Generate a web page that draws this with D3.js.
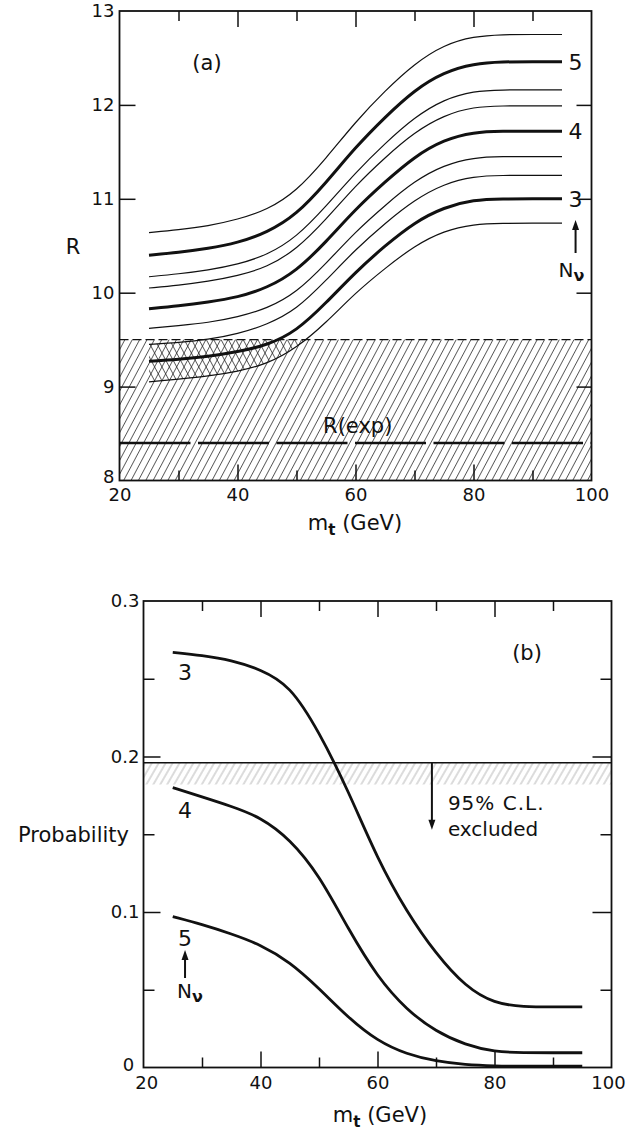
<!DOCTYPE html>
<html>
<head>
<meta charset="utf-8">
<script src="https://cdn.jsdelivr.net/npm/d3@7/dist/d3.min.js"></script>
<style>
body{margin:0;background:#fff}
text{font-family:"DejaVu Sans",sans-serif;fill:#111}
</style>
</head>
<body>
<svg id="chart" width="627" height="1132"></svg>
<script>
// top quark mass grid (GeV)
const mt = [25,30,35,40,45,50,55,60,65,70,75,80,85,90,95]

// (a) R for N_nu = 5,4,3 with the edges of each band
const rN5hi = [10.64,10.67,10.71,10.78,10.88,11.08,11.43,11.82,12.15,12.44,12.64,12.73,12.75,12.75,12.75]
const rN5   = [10.40,10.43,10.47,10.53,10.64,10.83,11.17,11.55,11.87,12.16,12.35,12.44,12.46,12.46,12.46]
const rN5lo = [10.17,10.20,10.24,10.30,10.40,10.59,10.92,11.28,11.59,11.87,12.06,12.15,12.16,12.16,12.16]
const rN4hi = [10.05,10.08,10.12,10.18,10.27,10.46,10.78,11.14,11.44,11.71,11.89,11.98,11.99,11.99,11.99]
const rN4   = [9.83,9.86,9.90,9.95,10.05,10.23,10.54,10.89,11.18,11.45,11.63,11.71,11.72,11.72,11.72]
const rN4lo = [9.62,9.65,9.68,9.74,9.83,10.00,10.31,10.65,10.93,11.19,11.36,11.44,11.45,11.45,11.45]
const rN3hi = [9.45,9.47,9.50,9.56,9.66,9.82,10.13,10.46,10.74,10.99,11.16,11.24,11.25,11.25,11.25]
const rN3   = [9.27,9.29,9.32,9.37,9.44,9.59,9.89,10.22,10.50,10.75,10.91,10.99,11.00,11.00,11.00]
const rN3lo = [9.05,9.08,9.11,9.16,9.24,9.41,9.68,10.00,10.26,10.50,10.66,10.73,10.74,10.74,10.74]
const rExp = 8.4
const rLimit = 9.5

// (b) probability for N_nu = 3,4,5
const probN3 = [0.267,0.265,0.262,0.256,0.246,0.216,0.178,0.134,0.100,0.073,0.052,0.041,0.039,0.039,0.039]
const probN4 = [0.180,0.174,0.168,0.161,0.147,0.124,0.089,0.058,0.037,0.023,0.0145,0.0100,0.0095,0.0095,0.0095]
const probN5 = [0.097,0.092,0.086,0.079,0.068,0.051,0.032,0.017,0.0085,0.0040,0.0018,0.0010,0.0008,0.0008,0.0008]
const probLimit = 0.196

// ticks
const mtTicks = [20,40,60,80,100]
const mtMajor = [40,60,80]
const mtMinor = [30,50,70,90]
const rTicks = [8,9,10,11,12,13]
const rInner = [9,10,11,12]
const probTicks = [0,0.1,0.2,0.3]
const probMajor = [0.1,0.2]
const probMinor = [0.05,0.15,0.25]

const svg = d3.select("#chart")
const defs = svg.append("defs")

function hatch(id, angle, size, color, w) {
    let p = defs.append("pattern").attr("id", id)
        .attr("patternUnits","userSpaceOnUse")
        .attr("width",size).attr("height",size)
        .attr("patternTransform",`rotate(${angle})`)
    p.append("line").attr("x1",size/2).attr("y1",0).attr("x2",size/2).attr("y2",size)
        .attr("stroke",color).attr("stroke-width",w)
}
hatch("fwd",28,6.5,"#222",0.7)
hatch("back",-28,6.5,"#222",0.7)
hatch("faint",30,6,"#b0b0b0",0.9)

function ticks(g, axis, size, vals) {
    g.call(axis.tickValues(vals).tickSize(size).tickFormat(""))
    g.select(".domain").remove()
    g.selectAll("line").attr("stroke","#111").attr("stroke-width",1.5)
}
function labels(g, axis, vals, fmt, pad) {
    g.call(axis.tickValues(vals).tickSize(0).tickPadding(pad).tickFormat(fmt))
    g.select(".domain").remove()
    g.attr("font-size",18).attr("font-family",null)
    return g
}

// ---------- panel (a) ----------
const xa = d3.scaleLinear().domain([20,100]).range([119.5,591.5])
const ya = d3.scaleLinear().domain([8,13]).range([480.5,11])

defs.append("clipPath").attr("id","belowA")
    .append("rect")
    .attr("x",xa(20)).attr("y",ya(rLimit))
    .attr("width",xa(100)-xa(20)).attr("height",ya(8)-ya(rLimit))

const pa = svg.append("g")
pa.append("rect")
    .attr("x",xa(20)).attr("y",ya(rLimit))
    .attr("width",xa(100)-xa(20)).attr("height",ya(8)-ya(rLimit))
    .attr("fill","url(#fwd)")

let bandA = d3.area().x((d,i)=>xa(mt[i])).y0(d=>ya(d[0])).y1(d=>ya(d[1])).curve(d3.curveBasis)
pa.append("path")
    .datum(rN3lo.map((v,i)=>[v,rN3hi[i]]))
    .attr("d",bandA)
    .attr("fill","url(#back)")
    .attr("clip-path","url(#belowA)")

pa.append("line")
    .attr("x1",xa(20)).attr("x2",xa(100))
    .attr("y1",ya(rLimit)).attr("y2",ya(rLimit))
    .attr("stroke","#111").attr("stroke-width",1.3).attr("stroke-dasharray","9,4")

pa.append("line")
    .attr("x1",xa(20)).attr("x2",xa(100))
    .attr("y1",ya(rExp)).attr("y2",ya(rExp))
    .attr("stroke","#111").attr("stroke-width",2.6).attr("stroke-dasharray","71,7.5")

let lineA = d3.line().x((d,i)=>xa(mt[i])).y(d=>ya(d)).curve(d3.curveBasis)
const curvesA = [rN5hi,rN5,rN5lo,rN4hi,rN4,rN4lo,rN3hi,rN3,rN3lo]
const thickA = [rN5,rN4,rN3]
pa.selectAll(".ca")
    .data(curvesA)
    .enter()
    .append("path")
    .attr("d",lineA)
    .attr("fill","none")
    .attr("stroke","#111")
    .attr("stroke-width",d=>thickA.includes(d)?3:1.2)

labels(pa.append("g").attr("transform",`translate(0,${ya(8)})`), d3.axisBottom(xa), mtTicks, d3.format("d"), 8)
labels(pa.append("g").attr("transform",`translate(${xa(20)-5},0)`), d3.axisLeft(ya), rTicks, d3.format("d"), 0)
    .selectAll("text").attr("dy",(d)=>d===8?"0.1em":"0.32em")
ticks(pa.append("g").attr("transform",`translate(0,${ya(8)})`), d3.axisBottom(xa), -16, mtMajor)
ticks(pa.append("g").attr("transform",`translate(0,${ya(8)})`), d3.axisBottom(xa), -10, mtMinor)
ticks(pa.append("g").attr("transform",`translate(0,${ya(13)})`), d3.axisTop(xa), -16, mtMajor)
ticks(pa.append("g").attr("transform",`translate(0,${ya(13)})`), d3.axisTop(xa), -10, mtMinor)
ticks(pa.append("g").attr("transform",`translate(${xa(20)},0)`), d3.axisLeft(ya), -16, rInner)
ticks(pa.append("g").attr("transform",`translate(${xa(100)},0)`), d3.axisRight(ya), -15, rInner)

pa.append("rect")
    .attr("x",xa(20)).attr("y",ya(13))
    .attr("width",xa(100)-xa(20)).attr("height",ya(8)-ya(13))
    .attr("fill","none").attr("stroke","#111").attr("stroke-width",1.8)

pa.append("text").attr("x",207).attr("y",70).attr("text-anchor","middle").attr("font-size",21).text("(a)")
pa.append("text").attr("x",73).attr("y",254).attr("text-anchor","middle").attr("font-size",21).text("R")
pa.append("text").attr("x",xa(54.5)).attr("y",ya(rExp)-10).attr("font-size",21).text("R(exp)")
;[["5",rN5[14]],["4",rN4[14]],["3",rN3[14]]].forEach(([t,v])=>{
    pa.append("text").attr("x",xa(97.3)).attr("y",ya(v)).attr("dy","0.36em")
        .attr("text-anchor","middle").attr("font-size",22).text(t)
})
pa.append("line").attr("x1",xa(97.3)).attr("x2",xa(97.3)).attr("y1",253).attr("y2",228)
    .attr("stroke","#111").attr("stroke-width",2)
pa.append("path").attr("d",`M${xa(97.3)-3.5},230 L${xa(97.3)},220 L${xa(97.3)+3.5},230 Z`).attr("fill","#111")
let nuA = pa.append("text").attr("x",xa(97.3)-17).attr("y",277).attr("font-size",20)
nuA.append("tspan").text("N")
nuA.append("tspan").attr("dy",4).attr("font-size",16).attr("font-weight","bold").text("ν")

let mA = pa.append("text").attr("x",355).attr("y",530).attr("text-anchor","middle").attr("font-size",21)
mA.append("tspan").text("m")
mA.append("tspan").attr("dy",5).attr("font-size",15).attr("font-weight","bold").text("t")
mA.append("tspan").attr("dy",-5).text(" (GeV)")

// ---------- panel (b) ----------
const xb = d3.scaleLinear().domain([20,100]).range([143.5,611.5])
const yb = d3.scaleLinear().domain([0,0.3]).range([1067.5,601])

const pb = svg.append("g")
pb.append("rect")
    .attr("x",xb(20)).attr("y",yb(probLimit))
    .attr("width",xb(100)-xb(20)).attr("height",yb(0.182)-yb(probLimit))
    .attr("fill","url(#faint)")
pb.append("line")
    .attr("x1",xb(20)).attr("x2",xb(100))
    .attr("y1",yb(probLimit)).attr("y2",yb(probLimit))
    .attr("stroke","#111").attr("stroke-width",1.5)

let lineB = d3.line().x((d,i)=>xb(mt[i])).y(d=>yb(d)).curve(d3.curveBasis)
pb.selectAll(".cb")
    .data([probN3,probN4,probN5])
    .enter()
    .append("path")
    .attr("d",lineB)
    .attr("fill","none")
    .attr("stroke","#111")
    .attr("stroke-width",2.8)

labels(pb.append("g").attr("transform",`translate(0,${yb(0)})`), d3.axisBottom(xb), mtTicks, d3.format("d"), 9)
    .selectAll("text").attr("dx",d=>d===100?"-0.2em":d===20?"0.15em":0)
labels(pb.append("g").attr("transform",`translate(${xb(20)-4},0)`), d3.axisLeft(yb), probTicks, d=>d===0?"0":d.toFixed(1), 0)
    .selectAll("text").attr("dy",(d)=>d===0?"0.15em":"0.32em").attr("dx",d=>d===0?"-0.3em":0)
ticks(pb.append("g").attr("transform",`translate(0,${yb(0)})`), d3.axisBottom(xb), -16, mtMajor)
ticks(pb.append("g").attr("transform",`translate(0,${yb(0)})`), d3.axisBottom(xb), -10, mtMinor)
ticks(pb.append("g").attr("transform",`translate(0,${yb(0.3)})`), d3.axisTop(xb), -16, mtMajor)
ticks(pb.append("g").attr("transform",`translate(0,${yb(0.3)})`), d3.axisTop(xb), -10, mtMinor)
ticks(pb.append("g").attr("transform",`translate(${xb(20)},0)`), d3.axisLeft(yb), -17, probMajor)
ticks(pb.append("g").attr("transform",`translate(${xb(20)},0)`), d3.axisLeft(yb), -11, probMinor)
ticks(pb.append("g").attr("transform",`translate(${xb(100)},0)`), d3.axisRight(yb), -19, probMajor)
ticks(pb.append("g").attr("transform",`translate(${xb(100)},0)`), d3.axisRight(yb), -11, probMinor)

pb.append("rect")
    .attr("x",xb(20)).attr("y",yb(0.3))
    .attr("width",xb(100)-xb(20)).attr("height",yb(0)-yb(0.3))
    .attr("fill","none").attr("stroke","#111").attr("stroke-width",1.8)

// exclusion arrow
const ax = xb(69.3)
pb.append("line").attr("x1",ax).attr("x2",ax).attr("y1",yb(probLimit)).attr("y2",yb(0.158))
    .attr("stroke","#111").attr("stroke-width",2)
pb.append("path").attr("d",`M${ax-3.5},${yb(0.158)-2} L${ax},${yb(0.158)+8} L${ax+3.5},${yb(0.158)-2} Z`).attr("fill","#111")
pb.append("text").attr("x",ax+16).attr("y",810).attr("font-size",20).attr("letter-spacing",1).text("95% C.L.")
pb.append("text").attr("x",ax+16).attr("y",836).attr("font-size",20).text("excluded")
pb.append("text").attr("x",527).attr("y",660).attr("text-anchor","middle").attr("font-size",21).text("(b)")

;[["3",0.2543],["4",0.1656],["5",0.0833]].forEach(([t,v])=>{
    pb.append("text").attr("x",xb(27.1)).attr("y",yb(v)).attr("dy","0.36em")
        .attr("text-anchor","middle").attr("font-size",22).text(t)
})
pb.append("line").attr("x1",xb(27.1)).attr("x2",xb(27.1)).attr("y1",978).attr("y2",958)
    .attr("stroke","#111").attr("stroke-width",2)
pb.append("path").attr("d",`M${xb(27.1)-3.5},960 L${xb(27.1)},950 L${xb(27.1)+3.5},960 Z`).attr("fill","#111")
let nuB = pb.append("text").attr("x",xb(27.1)-8).attr("y",998).attr("font-size",20)
nuB.append("tspan").text("N")
nuB.append("tspan").attr("dy",4).attr("font-size",16).attr("font-weight","bold").text("ν")

pb.append("text").attr("x",18).attr("y",842).attr("font-size",21).text("Probability")

let mB = pb.append("text").attr("x",380).attr("y",1122).attr("text-anchor","middle").attr("font-size",21)
mB.append("tspan").text("m")
mB.append("tspan").attr("dy",5).attr("font-size",15).attr("font-weight","bold").text("t")
mB.append("tspan").attr("dy",-5).text(" (GeV)")
</script>
</body>
</html>
